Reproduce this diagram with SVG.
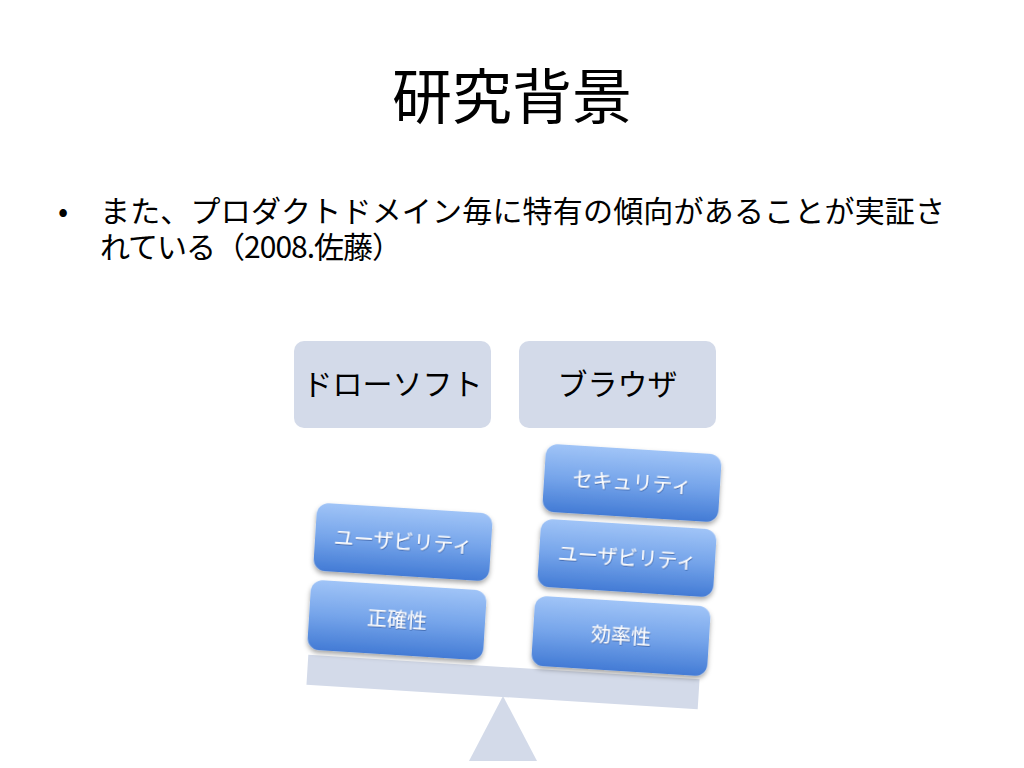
<svg xmlns="http://www.w3.org/2000/svg" width="1024" height="768" viewBox="0 0 1024 768">
<defs>
<linearGradient id="blueGrad" x1="0" y1="0" x2="0" y2="1">
<stop offset="0" stop-color="#a0c4f7"/>
<stop offset="0.5" stop-color="#75a4ea"/>
<stop offset="1" stop-color="#437bd5"/>
</linearGradient>
<filter id="shadow" x="-20%" y="-20%" width="140%" height="150%">
<feDropShadow dx="0" dy="3" stdDeviation="2.5" flood-color="#000" flood-opacity="0.35"/>
</filter>
<filter id="txtShadow" x="-10%" y="-20%" width="120%" height="150%">
<feDropShadow dx="0.5" dy="1" stdDeviation="0.6" flood-color="#1a3f80" flood-opacity="0.6"/>
</filter>
</defs>
<style>
.jp{font-family:"Noto Sans CJK JP","Noto Sans CJK SC",sans-serif;}
.title{font-size:60px;fill:#000;}
.body{font-size:30px;fill:#000;}
.hdr{fill:#d3dae9;}
.hdrtxt{font-size:30px;fill:#000;}
.blk{fill:url(#blueGrad);filter:url(#shadow);}
.blktxt{font-size:20px;fill:#fff;filter:url(#txtShadow);}
.support{fill:#d3dae9;}
</style>
<rect width="1024" height="768" fill="#fff"/>
<text class="jp title" x="512" y="119" text-anchor="middle">研究背景</text>
<text class="jp body" x="58" y="222">•</text>
<text class="jp body" x="100" y="222" textLength="845" lengthAdjust="spacing">また、プロダクトドメイン毎に特有の傾向があることが実証さ</text>
<text class="jp body" x="100" y="258" textLength="302" lengthAdjust="spacing">れている（2008.佐藤）</text>

<g id="hdr-draw">
<rect class="hdr" x="294" y="341" width="197" height="87" rx="10"/>
<text class="jp hdrtxt" x="392.5" y="395" text-anchor="middle">ドローソフト</text>
</g>
<g id="hdr-browser">
<rect class="hdr" x="519" y="341" width="197" height="87" rx="10"/>
<text class="jp hdrtxt" x="617.5" y="395" text-anchor="middle">ブラウザ</text>
</g>

<g id="fulcrum">
<polygon class="support" points="503,696 537,761 469,761"/>
</g>
<g id="beam">
<rect class="support" x="307" y="667" width="392" height="30" transform="rotate(3.6 503 682)"/>
</g>

<g id="left-usability" transform="translate(403 542) rotate(3.6)">
<rect class="blk" x="-88" y="-34" width="176" height="68" rx="12"/>
<text class="jp blktxt" x="0" y="7" text-anchor="middle">ユーザビリティ</text>
</g>
<g id="left-accuracy" transform="translate(397 620) rotate(3.6)">
<rect class="blk" x="-88" y="-35" width="176" height="70" rx="12"/>
<text class="jp blktxt" x="0" y="7" text-anchor="middle">正確性</text>
</g>
<g id="right-security" transform="translate(632 483) rotate(3.6)">
<rect class="blk" x="-88" y="-34" width="176" height="68" rx="12"/>
<text class="jp blktxt" x="0" y="7" text-anchor="middle">セキュリティ</text>
</g>
<g id="right-usability" transform="translate(627 558) rotate(3.6)">
<rect class="blk" x="-88" y="-34" width="176" height="68" rx="12"/>
<text class="jp blktxt" x="0" y="7" text-anchor="middle">ユーザビリティ</text>
</g>
<g id="right-efficiency" transform="translate(621 636) rotate(3.6)">
<rect class="blk" x="-88" y="-35" width="176" height="70" rx="12"/>
<text class="jp blktxt" x="0" y="7" text-anchor="middle">効率性</text>
</g>
<g id="connectors"/>
</svg>
